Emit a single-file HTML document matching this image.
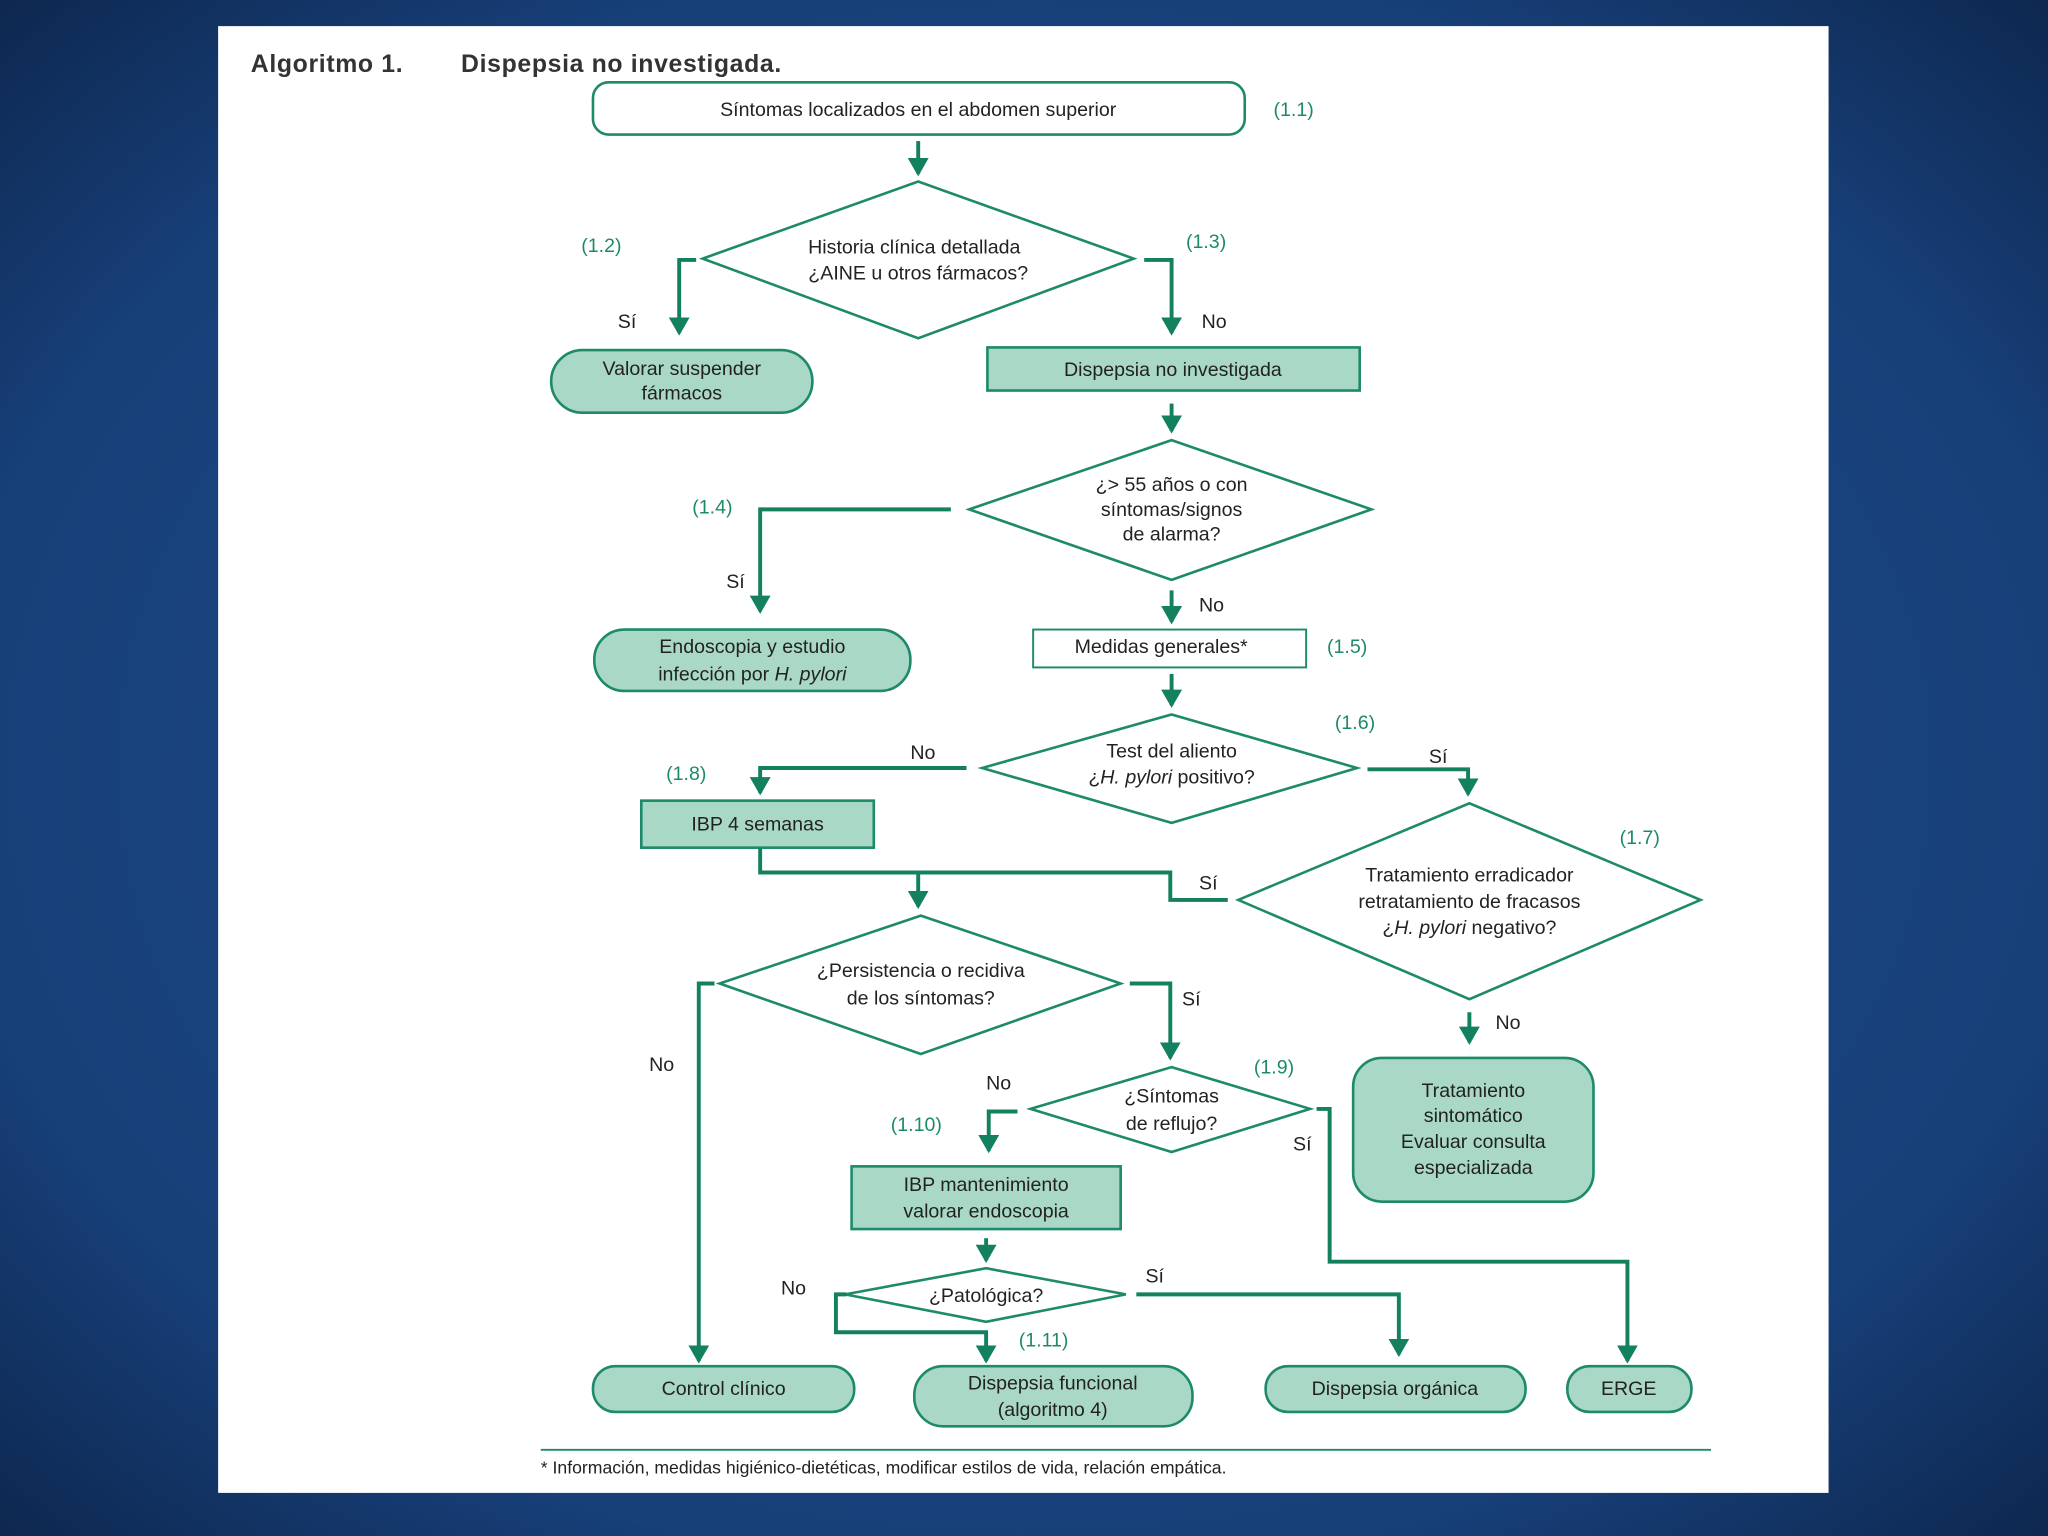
<!DOCTYPE html>
<html><head><meta charset="utf-8"><style>
html,body{margin:0;padding:0;width:2048px;height:1536px;overflow:hidden;background:#0f2c5c;}
svg{display:block}
text{font-family:"Liberation Sans",sans-serif;fill:#222;font-size:15px}
.g{fill:#1d8a6a;font-size:15px}
.s{fill:none;stroke:#138060;stroke-width:3}
.b{stroke:#1d8a6a;stroke-width:2}
.f{fill:#a9d9c6}
.w{fill:#fff}
</style></head><body>
<svg width="2048" height="1536" viewBox="0 0 1568 1176" xmlns="http://www.w3.org/2000/svg">
<defs>
<radialGradient id="bg" cx="50%" cy="50%" r="75%"><stop offset="0" stop-color="#1f4f8e"/><stop offset="0.7" stop-color="#173f78"/><stop offset="1" stop-color="#0b2246"/></radialGradient>
<marker id="d" markerUnits="userSpaceOnUse" markerWidth="16" markerHeight="14" refX="8" refY="12" orient="0" viewBox="0 0 16 14"><path d="M0 0 L16 0 L8 14 Z" fill="#138060"/></marker>
</defs>
<rect width="1568" height="1176" fill="url(#bg)"/>
<rect x="167" y="20" width="1233" height="1123" fill="#fff"/>
<text x="192" y="55" style="font-size:19px;font-weight:bold;fill:#333;letter-spacing:0.5px">Algoritmo 1.<tspan x="353">Dispepsia no investigada.</tspan></text>

<g text-anchor="middle">
<rect x="454" y="63" width="499" height="40" rx="12" class="w b"/>
<text x="703" y="89">Síntomas localizados en el abdomen superior</text>
<polygon points="538,198 703,139 868,198 703,259" class="w b"/>
<text x="700" y="194">Historia clínica detallada</text>
<text x="703" y="214">¿AINE u otros fármacos?</text>
<rect x="422" y="268" width="200" height="48" rx="24" class="f b"/>
<text x="522" y="287">Valorar suspender</text><text x="522" y="306">fármacos</text>
<rect x="756" y="266" width="285" height="33" class="f b"/>
<text x="898" y="288">Dispepsia no investigada</text>
<polygon points="742,390 897,337 1050,390 897,444" class="w b"/>
<text x="897" y="376">¿&gt; 55 años o con</text><text x="897" y="395">síntomas/signos</text><text x="897" y="414">de alarma?</text>
<rect x="455" y="482" width="242" height="47" rx="23" class="f b"/>
<text x="576" y="500">Endoscopia y estudio</text><text x="576" y="521">infección por <tspan font-style="italic">H. pylori</tspan></text>
<rect x="791" y="482" width="209" height="29" class="w" style="stroke:#1d8a6a;stroke-width:1.5"/>
<text x="889" y="500">Medidas generales*</text>
<polygon points="752,588 897,547 1039,588 897,630" class="w b"/>
<text x="897" y="580">Test del aliento</text><text x="897" y="600">¿<tspan font-style="italic">H. pylori</tspan> positivo?</text>
<rect x="491" y="613" width="178" height="36" class="f b"/>
<text x="580" y="636">IBP 4 semanas</text>
<polygon points="948,689 1125,615 1302,689 1125,765" class="w b"/>
<text x="1125" y="675">Tratamiento erradicador</text><text x="1125" y="695">retratamiento de fracasos</text><text x="1125" y="715">¿<tspan font-style="italic">H. pylori</tspan> negativo?</text>
<rect x="1036" y="810" width="184" height="110" rx="22" class="f b"/>
<text x="1128" y="840">Tratamiento</text><text x="1128" y="859">sintomático</text><text x="1128" y="879">Evaluar consulta</text><text x="1128" y="899">especializada</text>
<polygon points="551,753 705,701 858,753 705,807" class="w b"/>
<text x="705" y="748">¿Persistencia o recidiva</text><text x="705" y="769">de los síntomas?</text>
<polygon points="789,849 897,817 1003,849 897,882" class="w b"/>
<text x="897" y="844">¿Síntomas</text><text x="897" y="865">de reflujo?</text>
<rect x="652" y="893" width="206" height="48" class="f b"/>
<text x="755" y="912">IBP mantenimiento</text><text x="755" y="932">valorar endoscopia</text>
<polygon points="647,991 755,971 862,991 755,1012" class="w b"/>
<text x="755" y="997">¿Patológica?</text>
<rect x="454" y="1046" width="200" height="35" rx="17" class="f b"/><text x="554" y="1068">Control clínico</text>
<rect x="700" y="1046" width="213" height="46" rx="22" class="f b"/><text x="806" y="1064">Dispepsia funcional</text><text x="806" y="1084">(algoritmo 4)</text>
<rect x="969" y="1046" width="199" height="35" rx="17" class="f b"/><text x="1068" y="1068">Dispepsia orgánica</text>
<rect x="1200" y="1046" width="95" height="35" rx="17" class="f b"/><text x="1247" y="1068">ERGE</text>
</g>

<g class="s" marker-end="url(#d)">
<path d="M703 108 V133"/>
<path d="M533 199 H520 V255"/>
<path d="M876 199 H897 V255"/>
<path d="M897 309 V330"/>
<path d="M728 390 H582 V468"/>
<path d="M897 452 V476"/>
<path d="M897 516 V540"/>
<path d="M740 588 H582 V607"/>
<path d="M1047 589 H1124 V608"/>
<path d="M582 649 V668 H703 V694"/>
<path d="M1125 775 V798"/>
<path d="M547 753 H535 V1042"/>
<path d="M865 753 H896 V810"/>
<path d="M779 851 H757 V881"/>
<path d="M1008 849 H1018 V966 H1246 V1042"/>
<path d="M755 948 V965"/>
<path d="M648 991 H640 V1020 H755 V1042"/>
<path d="M870 991 H1071 V1037"/>
</g>
<path d="M703 668 H896 V689 H940" class="s"/>

<g>
<text x="975" y="89" class="g">(1.1)</text>
<text x="445" y="193" class="g">(1.2)</text>
<text x="908" y="190" class="g">(1.3)</text>
<text x="530" y="393" class="g">(1.4)</text>
<text x="1016" y="500" class="g">(1.5)</text>
<text x="1022" y="558" class="g">(1.6)</text>
<text x="1240" y="646" class="g">(1.7)</text>
<text x="510" y="597" class="g">(1.8)</text>
<text x="960" y="822" class="g">(1.9)</text>
<text x="682" y="866" class="g">(1.10)</text>
<text x="780" y="1031" class="g">(1.11)</text>
<text x="473" y="251">Sí</text>
<text x="920" y="251">No</text>
<text x="556" y="450">Sí</text>
<text x="918" y="468">No</text>
<text x="697" y="581">No</text>
<text x="1094" y="584">Sí</text>
<text x="918" y="681">Sí</text>
<text x="1145" y="788">No</text>
<text x="497" y="820">No</text>
<text x="905" y="770">Sí</text>
<text x="755" y="834">No</text>
<text x="990" y="881">Sí</text>
<text x="598" y="991">No</text>
<text x="877" y="982">Sí</text>
</g>
<line x1="414" y1="1110" x2="1310" y2="1110" stroke="#1d8a6a" stroke-width="1.5"/>
<text x="414" y="1128" style="font-size:13.5px">* Información, medidas higiénico-dietéticas, modificar estilos de vida, relación empática.</text>
</svg>
</body></html>
